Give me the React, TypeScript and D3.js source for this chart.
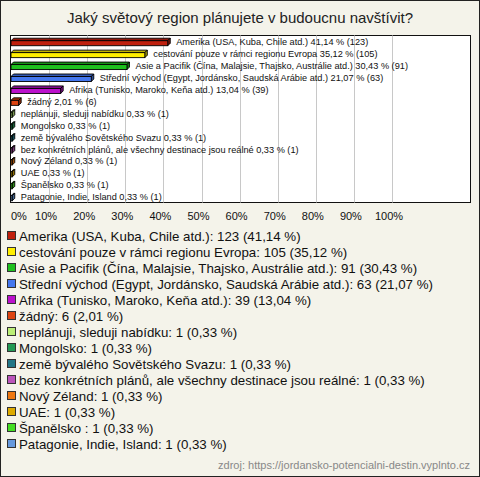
import React from "react";
import * as d3 from "d3";

const categories = [
  "Amerika (USA, Kuba, Chile atd.)",
  "cestování pouze v rámci regionu Evropa",
  "Asie a Pacifik (Čína, Malajsie, Thajsko, Austrálie atd.)",
  "Střední východ (Egypt, Jordánsko, Saudská Arábie atd.)",
  "Afrika (Tunisko, Maroko, Keňa atd.)",
  "žádný",
  "neplánuji, sleduji nabídku",
  "Mongolsko",
  "země bývalého Sovětského Svazu",
  "bez konkrétních plánů, ale všechny destinace jsou reálné",
  "Nový Zéland",
  "UAE",
  "Španělsko ",
  "Patagonie, Indie, Island",
];
const counts = [123, 105, 91, 63, 39, 6, 1, 1, 1, 1, 1, 1, 1, 1];
const percents = [41.14, 35.12, 30.43, 21.07, 13.04, 2.01, 0.33, 0.33, 0.33, 0.33, 0.33, 0.33, 0.33, 0.33];
const colors = [
  "#c0200e", "#ffee00", "#1ec01e", "#4477ee", "#bb11cc", "#dd4411", "#bbee77",
  "#229955", "#227788", "#bb55bb", "#ee7711", "#ddaa00", "#44dd22", "#6699dd",
];
const ticks = [0, 10, 20, 30, 40, 50, 60, 70, 80, 90, 100];
const title = "Jaký světový region plánujete v budoucnu navštívit?";
const source = "zdroj: https://jordansko-potencialni-destin.vyplnto.cz";

const W = 480;
const H = 477;
const font = "Arial, 'Liberation Sans', sans-serif";

const fmt = (v: number) => v.toFixed(2).replace(".", ",");

export default function App() {
  const plot = { left: 10.5, top: 35.5, right: 470.5, bottom: 202.5 };
  const x = d3.scaleLinear().domain([0, 100]).range([11, 392]);
  const y = d3
    .scaleBand<string>()
    .domain(categories)
    .range([plot.top, plot.bottom])
    .padding(0);
  const depth = 2.5;
  const barH = 5;

  return (
    <svg
      width={W}
      height={H}
      style={{ position: "absolute", left: 0, top: 0, fontFamily: font }}
    >
      <rect x={0.5} y={0.5} width={W - 1} height={H - 1} fill="#f4f3ea" stroke="#222" />
      <text x={240} y={23} textAnchor="middle" fontSize={15} fill="#222">
        {title}
      </text>
      <rect
        x={plot.left}
        y={plot.top}
        width={plot.right - plot.left}
        height={plot.bottom - plot.top}
        fill="#fff"
        stroke="#111"
      />
      {ticks.slice(1).map((t) => (
        <line
          key={t}
          x1={Math.round(x(t)) + 0.5}
          x2={Math.round(x(t)) + 0.5}
          y1={plot.top}
          y2={plot.bottom}
          stroke="#c8c8c8"
        />
      ))}
      {categories.map((c, i) => {
        const cy = (y(c) as number) + y.bandwidth() / 2 + 0.5;
        const y0 = cy - barH / 2 + depth / 2;
        const y1 = y0 + barH;
        const x0 = x(0);
        const x1 = Math.max(x(percents[i]), x0 + 0.8);
        const col = d3.color(colors[i])!;
        const top = `${x0},${y0} ${x0 + depth},${y0 - depth} ${x1 + depth},${y0 - depth} ${x1},${y0}`;
        const side = `${x1},${y0} ${x1 + depth},${y0 - depth} ${x1 + depth},${y1 - depth} ${x1},${y1}`;
        return (
          <g key={c}>
            <polygon points={top} fill={col.darker(0.8).toString()} stroke="#000" strokeWidth={0.9} />
            <polygon points={side} fill={col.darker(1.2).toString()} stroke="#000" strokeWidth={0.9} />
            <rect x={x0} y={y0} width={x1 - x0} height={barH} fill={colors[i]} stroke="#000" strokeWidth={0.9} />
            <text
              x={x1 + depth + 6}
              y={cy}
              dy="0.35em"
              fontSize={9.2}
              fill="#111"
            >
              {`${c} ${fmt(percents[i])} % (${counts[i]})`}
            </text>
          </g>
        );
      })}
      {ticks.map((t) => (
        <text
          key={t}
          x={t === 0 ? 11 : x(t) - 3}
          y={220}
          textAnchor={t === 0 ? "start" : "middle"}
          fontSize={11}
          fill="#111"
        >
          {`${t}%`}
        </text>
      ))}
      {categories.map((c, i) => {
        const ly = 236 + i * 16;
        return (
          <g key={"l" + c}>
            <rect x={7.5} y={ly - 4.5} width={8} height={8} fill={colors[i]} stroke="#333" />
            <text x={19} y={ly} dy="0.35em" fontSize={13.3} fill="#111">
              {`${c}: ${counts[i]} (${fmt(percents[i])} %)`}
            </text>
          </g>
        );
      })}
      <text x={470} y={469} textAnchor="end" fontSize={11} fill="#888">
        {source}
      </text>
    </svg>
  );
}
